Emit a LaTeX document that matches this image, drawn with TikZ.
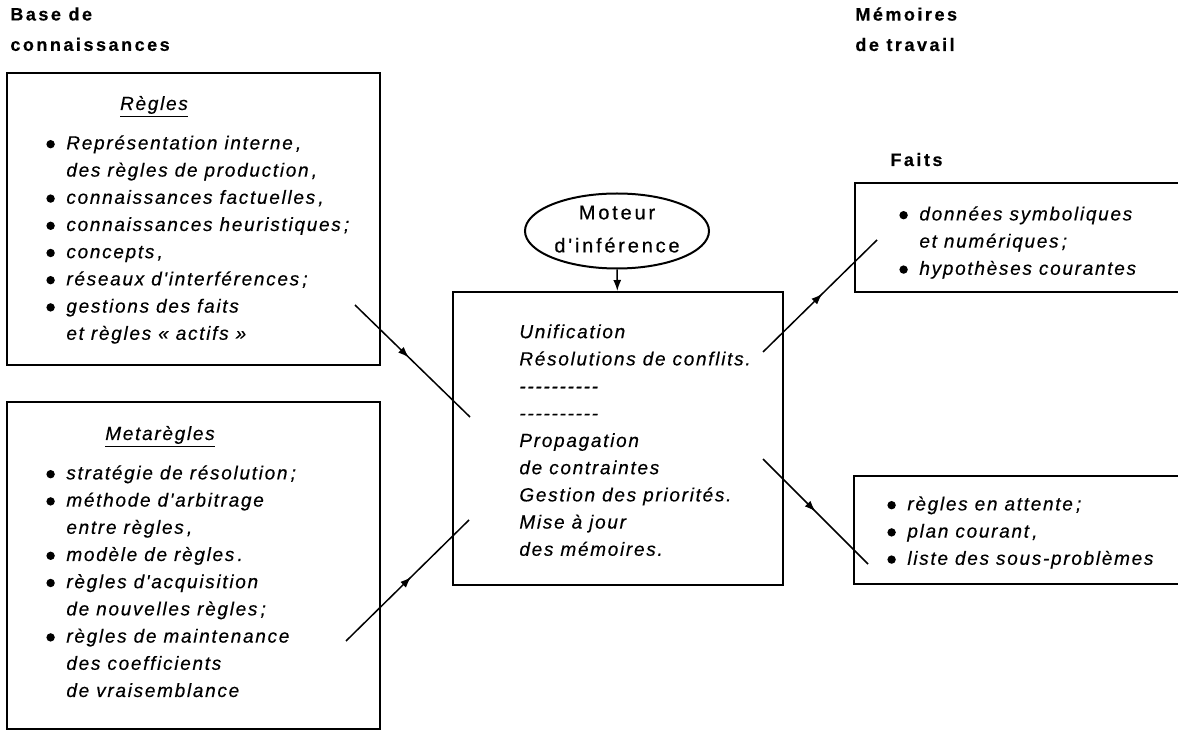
\documentclass[tikz,border=0pt]{standalone}
\usepackage{fontspec}
\newfontfamily\corps[LetterSpace=9,FakeBold=0.4]{Liberation Sans}
\newfontfamily\gras[LetterSpace=14,FakeBold=0.5]{Liberation Sans}
\usepackage{tikz}
\usetikzlibrary{arrows.meta,decorations.markings,shapes.geometric,fit}

\tikzset{
  boite/.style={draw, line width=1pt, inner sep=0pt},
  texte/.style={anchor=north west, inner sep=0pt, align=left,
    execute at begin node=\strut, font=\corps\itshape\fontsize{9.5}{13.6}\selectfont},
  entete/.style={anchor=north west, inner sep=0pt, align=left,
    execute at begin node=\strut, font=\gras\bfseries\fontsize{9}{15.2}\selectfont},
  titre/.style={anchor=base, inner sep=0pt, font=\corps\itshape\fontsize{9.5}{13.6}\selectfont},
  fleche/.style={line width=0.75pt},
  pointe/.style={postaction={decorate}, decoration={markings,
    mark=at position #1 with {\arrow{Latex[length=5.5pt,width=4pt]}}}},
}
\newcommand{\bul}{\makebox[10pt][l]{\tikz[baseline=-2.6pt]\fill (0,0) circle (2.1pt);}}
\newcommand{\ind}{\hspace*{10pt}}

\begin{document}
\begin{tikzpicture}[x=0.5pt,y=-0.5pt]
\useasboundingbox (0,0) rectangle (1178,732);
\clip (0,0) rectangle (1178,732);

% titres des colonnes
\node[entete] (base) at (10,7) {Base de\\connaissances};
\node[entete] (memoires) at (855,7) {Mémoires\\de travail};
\node[entete, anchor=base west] (faitslabel) at (890,166) {Faits};

% base de connaissances
\node[boite, fit={(7,73) (380,365)}] (regles) {};
\node[titre] (reglestitre) at (154,110) {\underline{Règles}};
\node[texte] (reglestexte) at (46,135) {\bul Représentation interne\,,\\
\ind des règles de production\,,\\
\bul connaissances factuelles\,,\\
\bul connaissances heuristiques\,;\\
\bul concepts\,,\\
\bul réseaux d'interférences\,;\\
\bul gestions des faits\\
\ind et règles « actifs »};

\node[boite, fit={(7,402) (380,729)}] (meta) {};
\node[titre] (metatitre) at (160,440) {\underline{Metarègles}};
\node[texte] (metatexte) at (46,465) {\bul stratégie de résolution\,;\\
\bul méthode d'arbitrage\\
\ind entre règles\,,\\
\bul modèle de règles\,.\\
\bul règles d'acquisition\\
\ind de nouvelles règles\,;\\
\bul règles de maintenance\\
\ind des coefficients\\
\ind de vraisemblance};

% moteur d'inference
\node[draw, ellipse, line width=1pt, inner sep=0pt, minimum width=92pt, minimum height=37.5pt,
  align=center, font=\gras\fontsize{10}{16.5}\selectfont] (moteur) at (617,231) {\raisebox{2pt}{Moteur}\\\raisebox{2pt}{d'inférence}};
\node[boite, fit={(453,292) (783,585)}] (centre) {};
\node[texte] (centretexte) at (519,324) {Unification\\
Résolutions de conflits.\\
-{}-{}-{}-{}-{}-{}-{}-{}-{}-\\
-{}-{}-{}-{}-{}-{}-{}-{}-{}-\\
Propagation\\
de contraintes\\
Gestion des priorités.\\
Mise à jour\\
des mémoires.};
\draw[fleche, -{Latex[length=5.5pt,width=4pt]}] (moteur) -- (centre);

% memoires de travail
\node[boite, fit={(855,183) (1200,292)}] (faits) {};
\node[texte] (faitstexte) at (899,206) {\bul données symboliques\\
\ind et numériques\,;\\
\bul hypothèses courantes};

\node[boite, fit={(854,476) (1200,584)}] (agenda) {};
\node[texte] (agendatexte) at (887,496) {\bul règles en attente\,;\\
\bul plan courant\,,\\
\bul liste des sous-problèmes};

% liaisons
\coordinate (r1) at (355,305); \coordinate (r2) at (470,417);
\coordinate (m1) at (346,641); \coordinate (m2) at (469,520);
\coordinate (f1) at (763,352); \coordinate (f2) at (877,240);
\coordinate (a1) at (763,459); \coordinate (a2) at (868,564);
\draw[fleche, pointe=0.47] (r1) -- (r2);
\draw[fleche, pointe=0.53] (m1) -- (m2);
\draw[fleche, pointe=0.52] (f1) -- (f2);
\draw[fleche, pointe=0.5] (a1) -- (a2);
\end{tikzpicture}
\end{document}
